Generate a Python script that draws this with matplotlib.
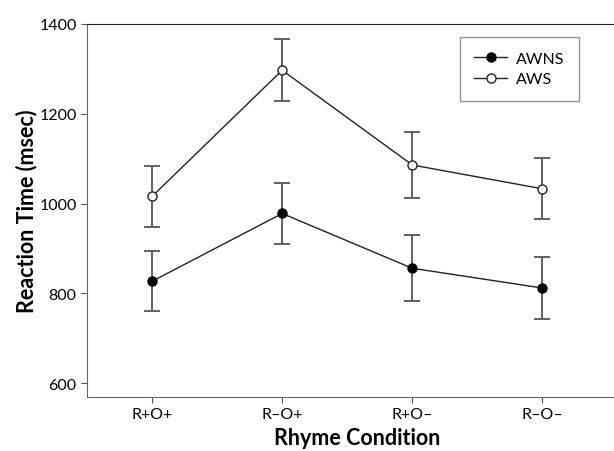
import matplotlib
matplotlib.use('Agg')
import matplotlib.pyplot as plt

conditions = ['R+O+', 'R\u2013O+', 'R+O\u2013', 'R\u2013O\u2013']
awns_mean = [827, 978, 856, 812]
awns_err = [67, 69, 73, 68]
aws_mean = [1016, 1297, 1086, 1033]
aws_err = [67, 69, 73, 68]

plt.rcParams['font.family'] = ['Lato', 'DejaVu Sans']

fig = plt.figure(figsize=(6.14, 4.52), dpi=100)
ax = fig.add_axes([87/614, 1-397.7/452, 540/614, (397.7-25)/452])

x = range(len(conditions))
ax.errorbar(x, awns_mean, yerr=awns_err, fmt='none', ecolor='#555555', elinewidth=1.3, capsize=5.5, capthick=1.3, zorder=2)
ax.errorbar(x, aws_mean, yerr=aws_err, fmt='none', ecolor='#555555', elinewidth=1.3, capsize=5.5, capthick=1.3, zorder=2)
ax.plot(x, awns_mean, color='#222222', lw=1, marker='o', ms=6.5, mfc='black', mec='black', label='AWNS', zorder=3)
ax.plot(x, aws_mean, color='#222222', lw=1, marker='o', ms=6.5, mfc='white', mec='#222222', mew=1, label='AWS', zorder=3)

ax.set_xlim(-0.5, 3.65)
ax.set_ylim(570, 1400)
ax.set_yticks([600, 800, 1000, 1200, 1400])
ax.set_xticks(list(x))
ax.set_xticklabels(conditions)
ax.tick_params(labelsize=11.5, color='#555555', length=4)
ax.spines['right'].set_visible(False)
for s in ['left', 'bottom']:
    ax.spines[s].set_color('#666666')
ax.spines['top'].set_color('#222222')

ax.set_xlabel('Rhyme Condition', fontsize=15.5, fontweight='bold', labelpad=4)
ax.set_ylabel('Reaction Time (msec)', fontsize=15.5, fontweight='bold', labelpad=1)

leg = ax.legend(loc='upper right', bbox_to_anchor=(579/614, 1-38/452), bbox_transform=fig.transFigure,
                fancybox=False, edgecolor='#777777', fontsize=11.5, handlelength=2.1,
                handletextpad=0.55, borderpad=0.9, labelspacing=0.4, borderaxespad=0)
leg.get_frame().set_linewidth(1)

fig.savefig('out.png', dpi=100)
